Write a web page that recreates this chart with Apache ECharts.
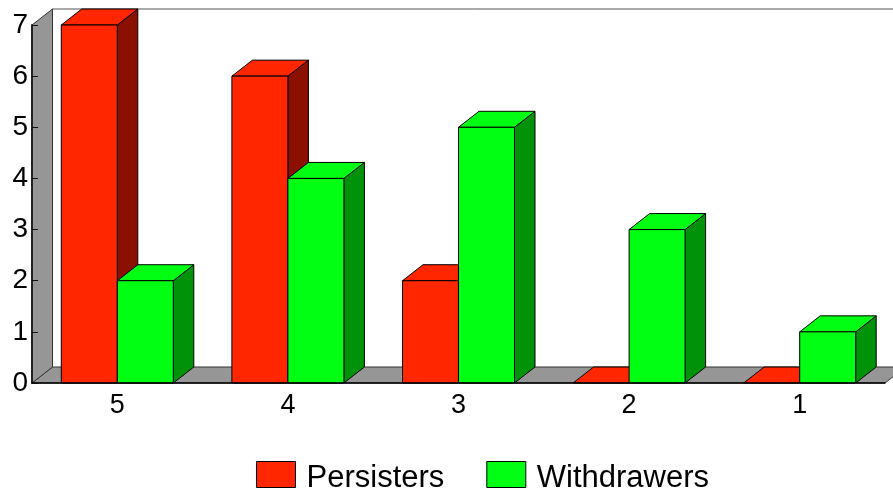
<!DOCTYPE html>
<html><head><meta charset="utf-8">
<style>html,body{margin:0;padding:0;background:#fff}#c{width:893px;height:491px}</style>
<script src="https://cdn.jsdelivr.net/npm/echarts@6/dist/echarts.min.js"></script>
</head><body><div id="c"></div>
<script>
const categories = ['5','4','3','2','1'];
const yTicks = [0,1,2,3,4,5,6,7];
const persisters = [7,6,2,0,0];
const withdrawers = [2,4,5,3,1];

const DX = 20.5, DY = -16;
const BAR = 56/170.6;
const WALL = '#969696', EDGE = '#000';

function shade(points, fill, stroke){
  return {type:'polygon', shape:{points}, style:{fill, stroke:stroke||EDGE, lineWidth:1}};
}
function bar3d(side, front, dark){
  return function(params, api){
    const idx = api.value(0), v = api.value(1);
    const top = api.coord([idx, v]), base = api.coord([idx, 0]);
    const w = api.size([1,0])[0]*BAR;
    const x0 = side < 0 ? top[0]-w : top[0], x1 = x0+w;
    const y0 = base[1], y1 = top[1];
    const children = [];
    if (v > 0) children.push(shade([[x1,y0],[x1+DX,y0+DY],[x1+DX,y1+DY],[x1,y1]], dark));
    children.push(shade([[x0,y1],[x0+DX,y1+DY],[x1+DX,y1+DY],[x1,y1]], front));
    if (v > 0) children.push(shade([[x0,y0],[x1,y0],[x1,y1],[x0,y1]], front));
    return {type:'group', children};
  };
}
function walls(params){
  const c = params.coordSys;
  const l=c.x, r=c.x+c.width, t=c.y, b=c.y+c.height;
  return {type:'group', children:[
    shade([[l,b],[l+DX,b+DY],[r+DX,b+DY],[r,b]], WALL, '#333'),
    shade([[l,t],[l+DX,t+DY],[l+DX,b+DY],[l,b]], WALL, '#333'),
    {type:'line', shape:{x1:l+DX,y1:t+DY,x2:r+DX,y2:t+DY}, style:{stroke:'#555',lineWidth:1}}
  ]};
}
const font = 'Liberation Sans, Arial, sans-serif';
const chart = echarts.init(document.getElementById('c'), null, {renderer:'canvas'});
chart.setOption({
  animation:false,
  backgroundColor:'#fff',
  grid:{left:32, top:25, width:853, height:358},
  legend:{
    left:256, top:455, padding:0, icon:'rect', itemWidth:39, itemHeight:26, itemGap:42,
    data:['Persisters','Withdrawers'],
    itemStyle:{borderColor:'#000',borderWidth:1},
    formatter:function(n){ return '{t|'+n+'}'; },
    textStyle:{
      fontFamily:font,fontSize:31,color:'#000',
      rich:{t:{fontFamily:font,fontSize:31,color:'#000',lineHeight:26,padding:[8,0,0,6]}}
    }
  },
  xAxis:[{
    type:'category', data:categories, position:'bottom', z:10,
    axisLine:{lineStyle:{color:'#000',width:1.5}},
    axisTick:{length:6,lineStyle:{color:'#111',width:1}},
    axisLabel:{fontFamily:font,fontSize:27,color:'#000',margin:9}
  },{
    type:'category', data:categories, position:'bottom', z:10,
    axisLine:{show:false},
    axisTick:{inside:true,length:4,lineStyle:{color:'#111',width:1}},
    axisLabel:{show:false}
  }],
  yAxis:{
    type:'value', min:yTicks[0], max:yTicks[yTicks.length-1], interval:1, z:10,
    axisLine:{show:true,lineStyle:{color:'#222',width:2}},
    axisTick:{show:true,inside:true,length:6,lineStyle:{color:'#111',width:1}},
    axisLabel:{fontFamily:font,fontSize:28,color:'#000',margin:4},
    splitLine:{show:false}
  },
  series:[
    {type:'custom', name:'walls', silent:true, z:1, clip:false, data:[[0,0]], renderItem:walls, encode:{x:0,y:1}},
    {type:'custom', name:'Persisters', z:2, clip:false, itemStyle:{color:'#ff2600'},
      data:persisters.map((v,i)=>[i,v]), renderItem:bar3d(-1,'#ff2600','#8b1000'), encode:{x:0,y:1}},
    {type:'custom', name:'Withdrawers', z:3, clip:false, itemStyle:{color:'#00ff12'},
      data:withdrawers.map((v,i)=>[i,v]), renderItem:bar3d(1,'#00ff12','#009208'), encode:{x:0,y:1}}
  ]
});
</script></body></html>
